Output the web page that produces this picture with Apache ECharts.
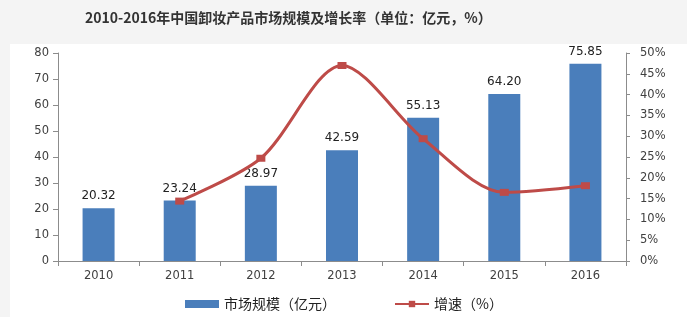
<!DOCTYPE html>
<html><head><meta charset="utf-8">
<script src="https://cdn.jsdelivr.net/npm/echarts@6/dist/echarts.min.js"></script>
<style>html,body{margin:0;padding:0;background:#fff}#c{width:687px;height:317px}</style>
</head><body><div id="c"></div>
<script>
const titleText = '2010-2016年中国卸妆产品市场规模及增长率（单位：亿元，%）';
const categories = ['2010','2011','2012','2013','2014','2015','2016'];
const marketSize = [20.32, 23.24, 28.97, 42.59, 55.13, 64.20, 75.85];
const growthRate = [null, 14.4, 24.7, 47.0, 29.4, 16.5, 18.1];
const seriesNames = ['市场规模（亿元）', '增速（%）'];

const chart = echarts.init(document.getElementById('c'));
const axisFont = {fontFamily: 'DejaVu Sans', fontSize: 11.5, color: '#404040'};
chart.setOption({
  backgroundColor: '#ffffff',
  animation: false,
  graphic: [
    {type:'rect', shape:{x:0,y:0,width:687,height:44}, style:{fill:'#f4f4f4'}, z:-10},
    {type:'rect', shape:{x:0,y:0,width:10,height:317}, style:{fill:'#f4f4f4'}, z:-10}
  ],
  title: {
    text: titleText, left: 80, top: 6,
    textStyle: {fontFamily: 'Noto Sans CJK SC', fontWeight: 'bold', fontSize: 14, color: '#333'}
  },
  legend: {
    bottom: 1, left: 180, itemGap: 58,
    itemWidth: 34, itemHeight: 8,
    textStyle: {fontFamily: 'Noto Sans CJK SC', fontSize: 14, color: '#222'},
    data: [
      {name: seriesNames[0], icon: 'rect'},
      {name: seriesNames[1]}
    ]
  },
  grid: {left: 58, right: 61, top: 53, bottom: 56},
  xAxis: {
    type: 'category', data: categories,
    axisLine: {lineStyle: {color: '#8c8c8c'}},
    axisTick: {show: true, length: 5, lineStyle: {color: '#8c8c8c'}},
    axisLabel: Object.assign({margin: 9}, axisFont)
  },
  yAxis: [
    {
      type: 'value', min: 0, max: 80, interval: 10,
      axisLine: {show: true, lineStyle: {color: '#8c8c8c'}},
      axisTick: {show: true, length: 5, lineStyle: {color: '#8c8c8c'}},
      splitLine: {show: false},
      axisLabel: Object.assign({margin: 9}, axisFont)
    },
    {
      type: 'value', min: 0, max: 50, interval: 5, position: 'right',
      axisLine: {show: true, lineStyle: {color: '#8c8c8c'}},
      axisTick: {show: true, length: 4, lineStyle: {color: '#8c8c8c'}},
      splitLine: {show: false},
      axisLabel: Object.assign({margin: 14, formatter: '{value}%'}, axisFont)
    }
  ],
  series: [
    {
      name: seriesNames[0], type: 'bar', data: marketSize, barWidth: 32,
      itemStyle: {color: '#4a7ebb'},
      label: {show: true, position: 'top', distance: 6, formatter: p => p.value.toFixed(2),
        fontFamily: 'DejaVu Sans', fontSize: 12, color: '#222'}
    },
    {
      name: seriesNames[1], type: 'line', yAxisIndex: 1, data: growthRate,
      smooth: 0.3, symbol: 'rect', symbolSize: [9, 7], showSymbol: true,
      lineStyle: {color: '#be4b48', width: 3},
      itemStyle: {color: '#be4b48'}, z: 5
    }
  ]
});
</script></body></html>
